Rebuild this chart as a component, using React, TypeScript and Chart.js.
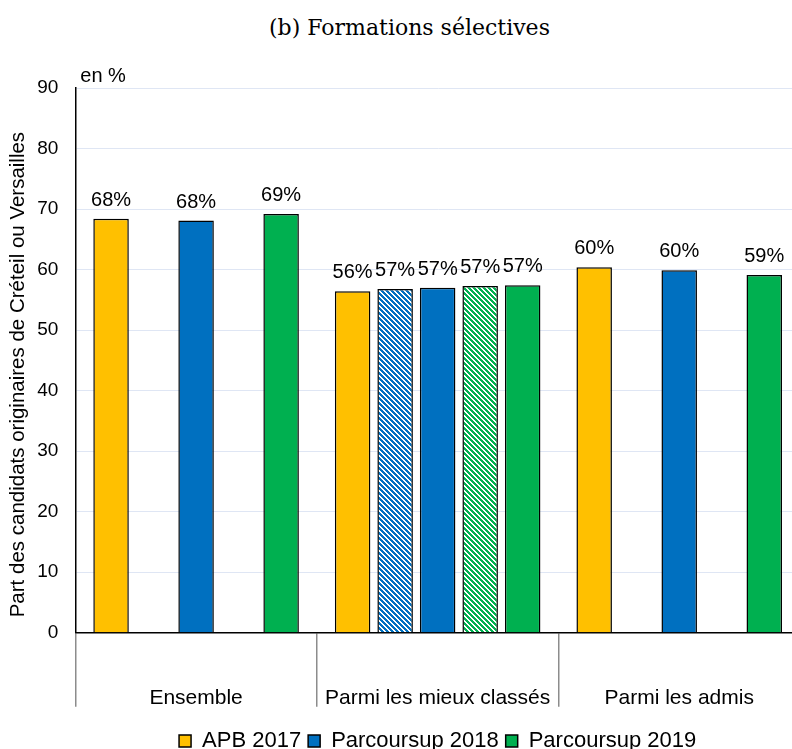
import React, { useEffect, useRef } from 'react';
import { Chart, registerables } from 'chart.js';

Chart.register(...registerables);

const categories = ['Ensemble', 'Parmi les mieux classés', 'Parmi les admis'];
const seriesNames = ['APB 2017', 'Parcoursup 2018 (hachuré)', 'Parcoursup 2018', 'Parcoursup 2019 (hachuré)', 'Parcoursup 2019'];
const apb2017 = [68.4, 56.4, 60.4];
const parcoursup2018Hatched = [null, 56.8, null];
const parcoursup2018 = [68.1, 57.0, 59.9];
const parcoursup2019Hatched = [null, 57.3, null];
const parcoursup2019 = [69.2, 57.4, 59.1];
const yMin = 0;
const yMax = 90;
const yStep = 10;
const title = '(b) Formations sélectives';
const yTitle = 'Part des candidats originaires de Créteil ou Versailles';
const unitLabel = 'en %';

const SANS = "'Liberation Sans', Arial, sans-serif";
const YELLOW = '#FFC000';
const BLUE = '#0070C0';
const GREEN = '#00B050';

function makeHatch(color: string): CanvasPattern | string {
  const N = 5;
  const c = document.createElement('canvas');
  c.width = N;
  c.height = N;
  const g = c.getContext('2d');
  if (!g) return color;
  g.fillStyle = '#ffffff';
  g.fillRect(0, 0, N, N);
  g.fillStyle = color;
  for (let y = 0; y < N; y++) {
    for (let x = 0; x < N; x++) {
      const d = (((x - y) % N) + N) % N;
      if (d < 3) g.fillRect(x, y, 1, 1);
    }
  }
  const p = g.createPattern(c, 'repeat');
  return p || color;
}

const dataLabels = {
  id: 'dataLabels',
  afterDatasetsDraw(chart: any) {
    const ctx = chart.ctx;
    ctx.save();
    ctx.font = `20px ${SANS}`;
    ctx.fillStyle = '#000';
    ctx.textAlign = 'center';
    ctx.textBaseline = 'alphabetic';
    chart.data.datasets.forEach((ds: any, i: number) => {
      const meta = chart.getDatasetMeta(i);
      meta.data.forEach((el: any, j: number) => {
        const v = ds.data[j];
        if (v === null || v === undefined) return;
        ctx.fillText(`${Math.round(v)}%`, el.x, el.y - 13);
      });
    });
    const ca = chart.chartArea;
    ctx.textAlign = 'left';
    ctx.fillText(unitLabel, ca.left + 5, ca.top - 6);
    ctx.restore();
  },
};

export default function App() {
  const ref = useRef<HTMLCanvasElement | null>(null);
  useEffect(() => {
    if (!ref.current) return;
    const hatchBlue = makeHatch(BLUE);
    const hatchGreen = makeHatch(GREEN);
    const mk = (label: string, data: (number | null)[], bg: any) => ({
      label,
      data,
      backgroundColor: bg,
      borderColor: '#000',
      borderWidth: 1.5,
      categoryPercentage: 0.88,
      barPercentage: 0.835,
    });
    const chart = new Chart(ref.current, {
      type: 'bar',
      data: {
        labels: categories,
        datasets: [
          mk(seriesNames[0], apb2017, YELLOW),
          mk(seriesNames[1], parcoursup2018Hatched, hatchBlue),
          mk(seriesNames[2], parcoursup2018, BLUE),
          mk(seriesNames[3], parcoursup2019Hatched, hatchGreen),
          mk(seriesNames[4], parcoursup2019, GREEN),
        ],
      },
      options: {
        animation: false,
        responsive: false,
        devicePixelRatio: 1,
        layout: { padding: { top: 88, left: 0, right: 0, bottom: 0 } },
        plugins: {
          title: { display: false },
          tooltip: { enabled: false },
          legend: {
            position: 'bottom',
            fullSize: false,
            labels: {
              color: '#000',
              font: { family: SANS, size: 22 },
              boxWidth: 12,
              boxHeight: 12,
              padding: 7,
              filter: (item: any) => item.datasetIndex !== 1 && item.datasetIndex !== 3,
            },
          },
        },
        scales: {
          x: {
            grid: {
              display: true,
              offset: true,
              drawOnChartArea: false,
              drawTicks: true,
              tickLength: 74,
              color: '#8c8c8c',
              lineWidth: 1.5,
            },
            border: { display: true, color: '#000', width: 1.5 },
            ticks: {
              color: '#000',
              font: { family: SANS, size: 21 },
              padding: -21,
              maxRotation: 0,
              autoSkip: false,
            },
            afterFit: (scale: any) => {
              scale.height = 90.3;
            },
          },
          y: {
            min: yMin,
            max: yMax,
            ticks: {
              stepSize: yStep,
              color: '#000',
              font: { family: SANS, size: 19 },
              padding: 17,
            },
            grid: { color: '#dfe6f4', lineWidth: 1, drawTicks: false },
            border: { display: true, color: '#000', width: 1.5 },
            title: {
              display: true,
              text: yTitle + '     ',
              color: '#000',
              font: { family: SANS, size: 20.5 },
              padding: { top: 6, bottom: 0 },
            },
            afterFit: (scale: any) => {
              scale.width = 75.3;
            },
          },
        },
      },
      plugins: [dataLabels],
    });
    return () => chart.destroy();
  }, []);

  return (
    <div style={{ position: 'fixed', left: 0, top: 0, width: 792, height: 749, overflow: 'hidden', background: '#fff' }}>
      <div
        style={{
          position: 'absolute',
          left: 269,
          top: 17,
          fontFamily: "'DejaVu Serif', serif",
          fontSize: 22,
          lineHeight: '22px',
          color: '#000',
          whiteSpace: 'nowrap',
        }}
      >
        {title}
      </div>
      <canvas ref={ref} width={800} height={762} style={{ position: 'absolute', left: 0, top: 0, width: 800, height: 762 }} />
    </div>
  );
}
